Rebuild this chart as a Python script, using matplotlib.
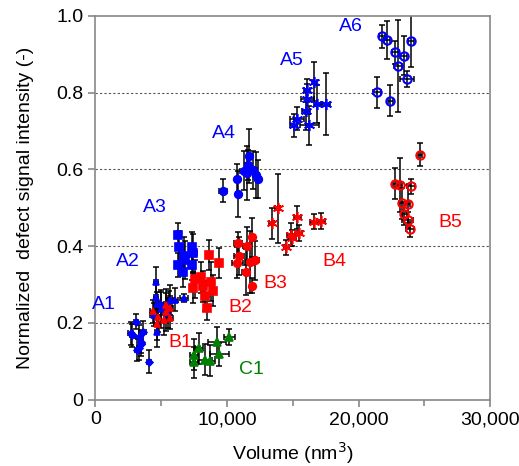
import matplotlib
matplotlib.use('Agg')
import matplotlib.pyplot as plt
from matplotlib.ticker import FuncFormatter, MultipleLocator

plt.rcParams['font.family'] = ['Liberation Sans', 'DejaVu Sans']

# volume in nm3, intensity (-), error bars
a1_x = [3100, 2700, 2800, 3300, 3600, 3450, 3300, 3200, 4100, 3500]
a1_y = [0.203, 0.173, 0.168, 0.164, 0.176, 0.151, 0.134, 0.130, 0.099, 0.145]
a1_xe = [150, 200, 150, 200, 250, 150, 150, 200, 150, 150]
a1_ye = [0.02, 0.03, 0.03, 0.03, 0.03, 0.03, 0.03, 0.03, 0.03, 0.03]

a2_x = [4620, 4620, 4690, 5000, 4460, 5000, 5530, 5600, 6060, 6750, 4690, 5680]
a2_y = [0.307, 0.268, 0.250, 0.250, 0.221, 0.237, 0.226, 0.244, 0.260, 0.265, 0.177, 0.260]
a2_xe = [150, 150, 200, 200, 300, 200, 250, 200, 200, 300, 150, 200]
a2_ye = [0.04, 0.04, 0.03, 0.03, 0.03, 0.05, 0.04, 0.04, 0.03, 0.01, 0.04, 0.04]

a3_x = [6310, 6390, 6750, 6310, 6690, 7330, 7450, 7330, 6820]
a3_y = [0.430, 0.399, 0.375, 0.351, 0.334, 0.398, 0.382, 0.351, 0.364]
a3_xe = [200, 200, 200, 250, 200, 200, 250, 200, 200]
a3_ye = [0.03, 0.04, 0.05, 0.03, 0.04, 0.04, 0.05, 0.04, 0.05]

a4_x = [9690, 10800, 10870, 11710, 11310, 11510, 12020, 12220, 12400, 11600]
a4_y = [0.544, 0.575, 0.537, 0.636, 0.597, 0.591, 0.599, 0.586, 0.575, 0.612]
a4_xe = [300, 200, 150, 200, 300, 200, 300, 200, 200, 200]
a4_ye = [0.03, 0.04, 0.06, 0.07, 0.05, 0.07, 0.05, 0.06, 0.05, 0.04]

a5_x = [16650, 16080, 16120, 16020, 15320, 15060, 16270, 16880, 17520]
a5_y = [0.829, 0.806, 0.784, 0.753, 0.732, 0.715, 0.715, 0.771, 0.771]
a5_xe = [200, 200, 500, 300, 500, 300, 700, 300, 300]
a5_ye = [0.05, 0.03, 0.04, 0.05, 0.03, 0.03, 0.05, 0.05, 0.08]

a6_x = [21780, 22160, 22790, 23420, 22970, 23980, 23680, 21400, 22410]
a6_y = [0.947, 0.938, 0.905, 0.897, 0.869, 0.936, 0.836, 0.801, 0.779]
a6_xe = [250, 250, 250, 250, 300, 200, 500, 300, 200]
a6_ye = [0.03, 0.05, 0.03, 0.05, 0.12, 0.07, 0.02, 0.04, 0.04]

b1_x = [4350, 5350, 5680, 4770, 4690, 5680, 5380, 5220]
b1_y = [0.231, 0.248, 0.239, 0.216, 0.196, 0.213, 0.229, 0.208]
b1_xe = [200, 200, 200, 200, 200, 200, 200, 200]
b1_ye = [0.03, 0.04, 0.03, 0.04, 0.04, 0.03, 0.05, 0.04]

b2_x = [8670, 7580, 8020, 7450, 8170, 8800, 8930, 8340, 8470, 9430]
b2_y = [0.377, 0.314, 0.319, 0.291, 0.295, 0.308, 0.284, 0.270, 0.238, 0.356]
b2_xe = [150, 200, 200, 200, 200, 200, 200, 150, 150, 200]
b2_ye = [0.04, 0.05, 0.04, 0.04, 0.04, 0.05, 0.04, 0.04, 0.03, 0.04]

b3_x = [10870, 11560, 11940, 10930, 10800, 11760, 12170, 11440, 11940]
b3_y = [0.408, 0.401, 0.423, 0.375, 0.357, 0.359, 0.363, 0.332, 0.297]
b3_xe = [300, 300, 200, 400, 400, 400, 300, 300, 200]
b3_ye = [0.03, 0.05, 0.05, 0.05, 0.04, 0.08, 0.05, 0.06, 0.02]

b4_x = [13870, 13410, 15360, 14860, 14940, 15510, 14500, 16630, 17140]
b4_y = [0.499, 0.460, 0.475, 0.430, 0.421, 0.434, 0.397, 0.464, 0.466]
b4_xe = [200, 200, 300, 300, 300, 200, 200, 300, 300]
b4_ye = [0.09, 0.04, 0.03, 0.03, 0.02, 0.02, 0.02, 0.02, 0.02]

b5_x = [24640, 22790, 23120, 23980, 23300, 23730, 23480, 23730, 23880]
b5_y = [0.638, 0.563, 0.560, 0.556, 0.512, 0.510, 0.484, 0.468, 0.444]
b5_xe = [150, 150, 150, 300, 200, 200, 200, 400, 300]
b5_ye = [0.03, 0.04, 0.07, 0.02, 0.04, 0.05, 0.03, 0.02, 0.02]

c1_x = [10190, 9230, 7910, 7510, 9430, 7510, 8340, 8720]
c1_y = [0.163, 0.150, 0.134, 0.117, 0.118, 0.097, 0.104, 0.102]
c1_xe = [400, 700, 300, 300, 700, 300, 500, 400]
c1_ye = [0.02, 0.04, 0.04, 0.04, 0.03, 0.04, 0.04, 0.04]

blue = '#0000ff'
red = '#ff0000'
green = '#008000'
ast = (6, 2, 0)

groups = [
    (a1_x, a1_y, a1_xe, a1_ye, 'D', blue, 3.5, True),
    (a2_x, a2_y, a2_xe, a2_ye, '^', blue, 5, True),
    (a3_x, a3_y, a3_xe, a3_ye, 's', blue, 5.5, True),
    (a4_x, a4_y, a4_xe, a4_ye, 'o', blue, 5.5, True),
    (a5_x, a5_y, a5_xe, a5_ye, ast, blue, 8, True),
    (a6_x, a6_y, a6_xe, a6_ye, 'o', blue, 6, False),
    (b1_x, b1_y, b1_xe, b1_ye, '^', red, 5, True),
    (b2_x, b2_y, b2_xe, b2_ye, 's', red, 5.5, True),
    (b3_x, b3_y, b3_xe, b3_ye, 'o', red, 5.5, True),
    (b4_x, b4_y, b4_xe, b4_ye, ast, red, 8, True),
    (b5_x, b5_y, b5_xe, b5_ye, 'o', red, 6, False),
    (c1_x, c1_y, c1_xe, c1_ye, '^', green, 5.5, True),
]

labels = [('A1', 650, 0.247, blue), ('A2', 2500, 0.359, blue), ('A3', 4500, 0.502, blue),
          ('A4', 9800, 0.695, blue), ('A5', 14900, 0.883, blue), ('A6', 19450, 0.972, blue),
          ('B1', 6450, 0.150, red), ('B2', 11000, 0.239, red), ('B3', 13700, 0.304, red),
          ('B4', 18200, 0.359, red), ('B5', 27000, 0.463, red), ('C1', 11850, 0.078, green)]

fig = plt.figure(figsize=(5.19, 4.66), dpi=100)
ax = fig.add_axes([0.1836, 0.1423, 0.7608, 0.8234])

for gx, gy, gxe, gye, m, c, s, filled in groups:
    ax.errorbar(gx, gy, xerr=gxe, yerr=gye, fmt='none', ecolor='black',
                elinewidth=1.1, capsize=2, capthick=1.1, zorder=2)
    if filled:
        ax.plot(gx, gy, linestyle='none', marker=m, markersize=s, color=c,
                markeredgecolor=c, markeredgewidth=1.2, zorder=3)
    else:
        ax.plot(gx, gy, linestyle='none', marker=m, markersize=s, markerfacecolor='none',
                markeredgecolor=c, markeredgewidth=1.5, zorder=3)

for t, lx, ly, c in labels:
    ax.text(lx, ly, t, color=c, fontsize=14, ha='center', va='center')

ax.set_xlim(0, 30000)
ax.set_ylim(0, 1.0)
ax.xaxis.set_major_locator(MultipleLocator(10000))
ax.xaxis.set_minor_locator(MultipleLocator(5000))
ax.yaxis.set_major_locator(MultipleLocator(0.2))
ax.xaxis.set_major_formatter(FuncFormatter(lambda v, p: '0' if v == 0 else f'{int(v):,}'))
ax.yaxis.set_major_formatter(FuncFormatter(lambda v, p: '0' if v == 0 else f'{v:.1f}'))

for yv in [0.2, 0.4, 0.6, 0.8]:
    ax.axhline(yv, color='#555555', linestyle=(0, (2, 2)), linewidth=0.8, zorder=1)

for sp in ax.spines.values():
    sp.set_color('#888888')
    sp.set_linewidth(1.2)
ax.tick_params(axis='both', which='both', direction='out', color='#888888', labelsize=14)
ax.tick_params(which='major', length=5, width=1.2)
ax.tick_params(which='minor', length=4, width=1.2)

ax.set_xlabel('Volume (nm$^3$)', fontsize=14, labelpad=8)
ax.set_ylabel('Normalized  defect signal intensity (-)', fontsize=14, labelpad=16)

fig.savefig('out.png', dpi=100)
